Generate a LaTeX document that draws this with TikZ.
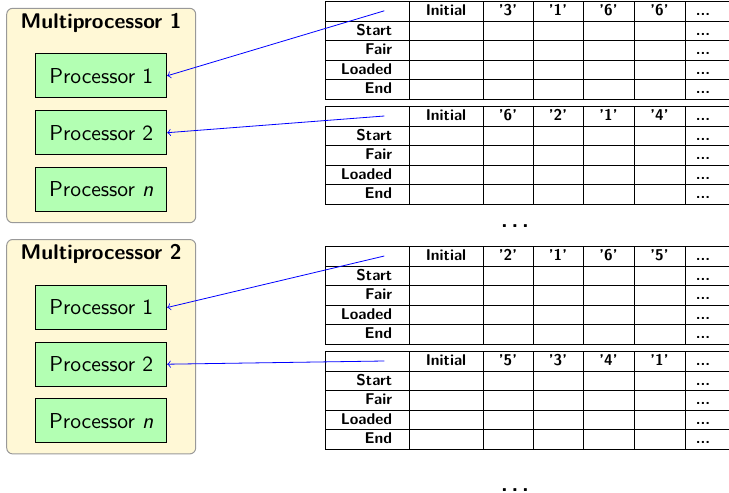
\documentclass[tikz,border=0pt]{standalone}
\usepackage{tikz}
\definecolor{mpcream}{RGB}{255,248,214}
\definecolor{procgreen}{RGB}{179,255,179}

% One trellis table: #1 top edge, #2 name, #3--#6 observed symbols
\newcommand\trellistable[6]{%
  \begin{scope}[shift={(0,#1)}]
    \foreach \k in {0,...,5}
      \draw[gridline] (325,19.55*\k) -- (729,19.55*\k);
    \foreach \c in {325,409,483,533,583,634,685}
      \draw[gridline] (\c,0) -- (\c,97.75);
    \coordinate (#2) at (384.3,9.3);
    \node[cell] (#2-h0) at (446,14) {Initial};
    \node[cell] (#2-h1) at (508,14) {#3};
    \node[cell] (#2-h2) at (558,14) {#4};
    \node[cell] (#2-h3) at (608.5,14) {#5};
    \node[cell] (#2-h4) at (659.5,14) {#6};
    \node[cell] (#2-h5) at (703,14) {...};
    \foreach \lab [count=\i] in {Start,Fair,Loaded,End} {
      \node[rowlabel] (#2-r\i) at (392.5,14+19.55*\i) {\lab};
      \node[cell] (#2-d\i) at (703,14+19.55*\i) {...};
    }
  \end{scope}}

\begin{document}
\begin{tikzpicture}[x=0.5pt,y=-0.5pt,
  mpbox/.style={draw=black!40, fill=mpcream, rounded corners=3pt,
    line width=0.5pt, minimum width=94.5pt, minimum height=107.2pt, inner sep=0pt},
  mptitle/.style={font=\sffamily\bfseries\fontsize{10.6}{13}\selectfont,
    anchor=base, inner sep=0pt},
  procbox/.style={draw=black, fill=procgreen, line width=0.5pt,
    minimum width=65.5pt, minimum height=21.85pt, inner sep=0pt,
    font=\sffamily\fontsize{10.8}{13}\selectfont},
  gridline/.style={line width=0.5pt, draw=black},
  cell/.style={font=\sffamily\bfseries\fontsize{7.8}{9}\selectfont,
    anchor=base, inner sep=0pt},
  rowlabel/.style={cell, anchor=base east},
  gap/.style={font=\sffamily\bfseries\fontsize{11}{13}\selectfont,
    anchor=base, inner sep=0pt},
  link/.style={draw=blue, ->, line width=0.4pt}]

\useasboundingbox (0,0) rectangle (729,493);

% Multiprocessor 1
\node[mpbox] (mp1) at (101.2,115.5) {};
\node[mptitle] (mp1-title) at (101.2,28.5) {Multiprocessor 1};
\node[procbox] (mp1-p1) at (101.2,75.8) {Processor 1};
\node[procbox] (mp1-p2) at (101.2,132.7) {Processor 2};
\node[procbox] (mp1-pn) at (101.2,189.3) {Processor \textit{n}};

% Multiprocessor 2
\node[mpbox] (mp2) at (101.2,346.7) {};
\node[mptitle] (mp2-title) at (101.2,259.5) {Multiprocessor 2};
\node[procbox] (mp2-p1) at (101.2,307.5) {Processor 1};
\node[procbox] (mp2-p2) at (101.2,364.2) {Processor 2};
\node[procbox] (mp2-pn) at (101.2,420.8) {Processor \textit{n}};

% Trellis tables
\trellistable{1.5}{ta}{'3'}{'1'}{'6'}{'6'}
\trellistable{106.7}{tb}{'6'}{'2'}{'1'}{'4'}
\trellistable{246.7}{tc}{'2'}{'1'}{'6'}{'5'}
\trellistable{351.7}{td}{'5'}{'3'}{'4'}{'1'}

\node[gap] (gap1) at (515,227.5) {.\kern1.9pt.\kern1.9pt.};
\node[gap] (gap2) at (515,491.5) {.\kern1.9pt.\kern1.9pt.};

% Table-to-processor links
\draw[link] (ta) -- (mp1-p1.east);
\draw[link] (tb) -- (mp1-p2.east);
\draw[link] (tc) -- (mp2-p1.east);
\draw[link] (td) -- (mp2-p2.east);

\end{tikzpicture}
\end{document}
